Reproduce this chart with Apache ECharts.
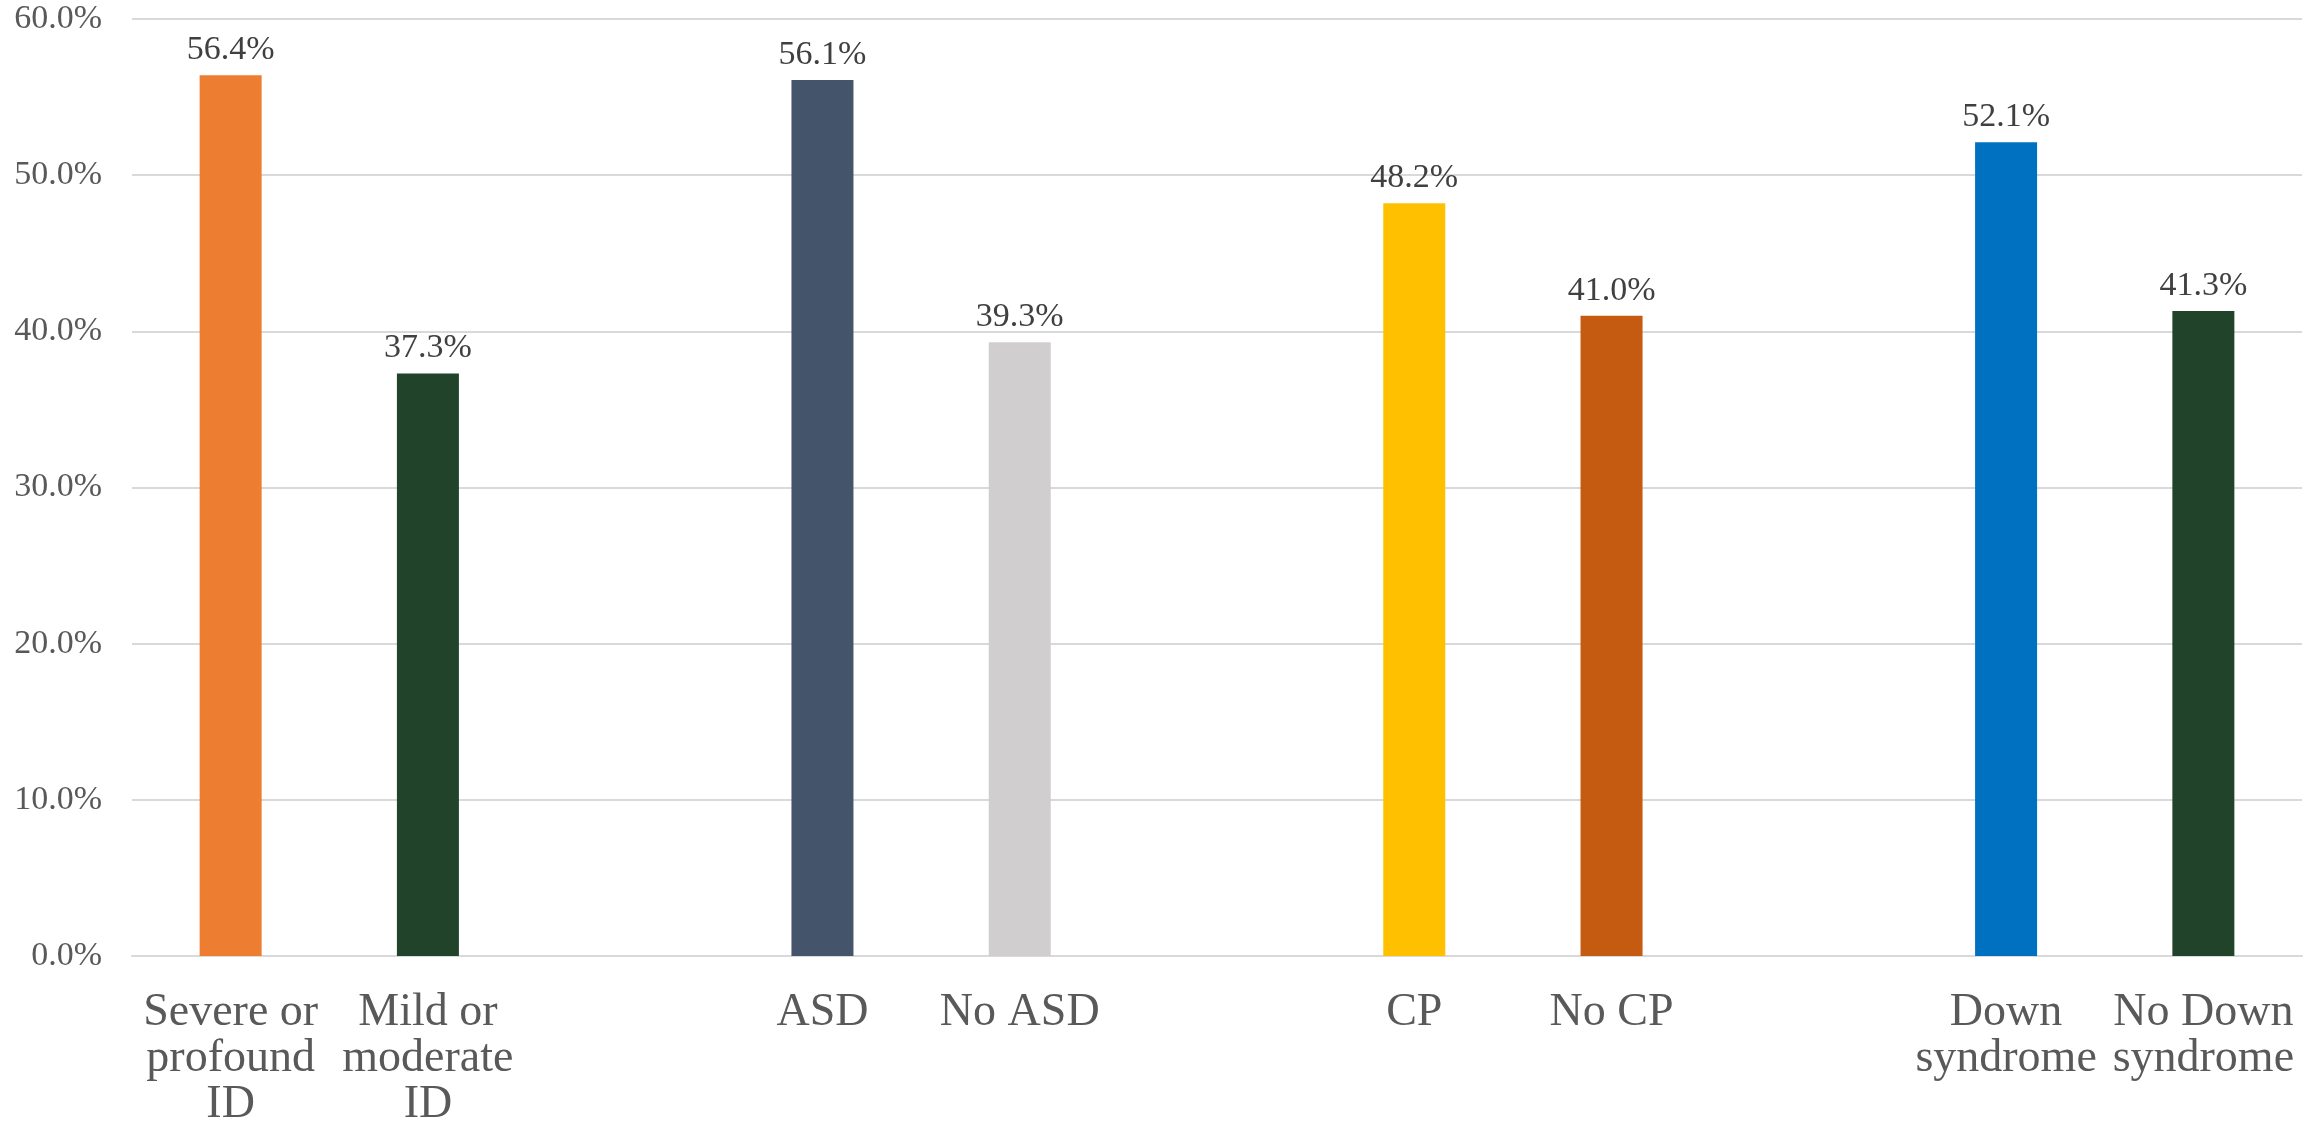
<!DOCTYPE html>
<html>
<head>
<meta charset="utf-8">
<script src="https://cdn.jsdelivr.net/npm/echarts@6/dist/echarts.min.js"></script>
<style>
html,body{margin:0;padding:0;background:#fff;width:2318px;height:1123px;overflow:hidden;}
#chart{width:2318px;height:1123px;display:block;}
</style>
</head>
<body>
<div id="chart"></div>
<script>
const categories = ['Severe or\nprofound\nID', 'Mild or\nmoderate\nID', '', 'ASD', 'No ASD', '', 'CP', 'No CP', '', 'Down\nsyndrome', 'No Down\nsyndrome'];
const values = [56.4, 37.3, null, 56.1, 39.3, null, 48.2, 41.0, null, 52.1, 41.3];
const barColors = ['#ED7D31', '#21432A', '#ffffff', '#44546A', '#D0CECE', '#ffffff', '#FFC000', '#C55A11', '#ffffff', '#0070C0', '#21432A'];
const yTicks = { min: 0, max: 60, interval: 10 };

const chart = echarts.init(document.getElementById('chart'), null, { renderer: 'canvas', width: 2318, height: 1123 });
const FONT = '"Liberation Serif", "DejaVu Serif", serif';
chart.setOption({
  animation: false,
  backgroundColor: '#ffffff',
  grid: { left: 132, right: 16, top: 19, bottom: 167, containLabel: false, outerBoundsMode: 'none' },
  xAxis: {
    type: 'category',
    data: categories,
    axisLine: { show: true, lineStyle: { color: '#d9d9d9', width: 2 } },
    axisTick: { show: false },
    axisLabel: {
      interval: 0,
      margin: 34,
      color: '#595959',
      fontFamily: FONT,
      fontSize: 46,
      lineHeight: 46,
      align: 'center'
    }
  },
  yAxis: {
    type: 'value',
    min: yTicks.min,
    max: yTicks.max,
    interval: yTicks.interval,
    axisLine: { show: false },
    axisTick: { show: false },
    splitLine: { lineStyle: { color: '#d9d9d9', width: 2 } },
    axisLabel: {
      margin: 30,
      color: '#595959',
      fontFamily: FONT,
      fontSize: 34,
      formatter: v => v.toFixed(1) + '%'
    }
  },
  series: [{
    type: 'bar',
    barWidth: 62,
    data: values.map((v, i) => ({ value: v, itemStyle: { color: barColors[i] } })),
    label: {
      show: true,
      position: 'top',
      distance: 8,
      color: '#404040',
      fontFamily: FONT,
      fontSize: 34,
      formatter: p => (p.value == null ? '' : Number(p.value).toFixed(1) + '%')
    }
  }]
});
</script>
</body>
</html>
